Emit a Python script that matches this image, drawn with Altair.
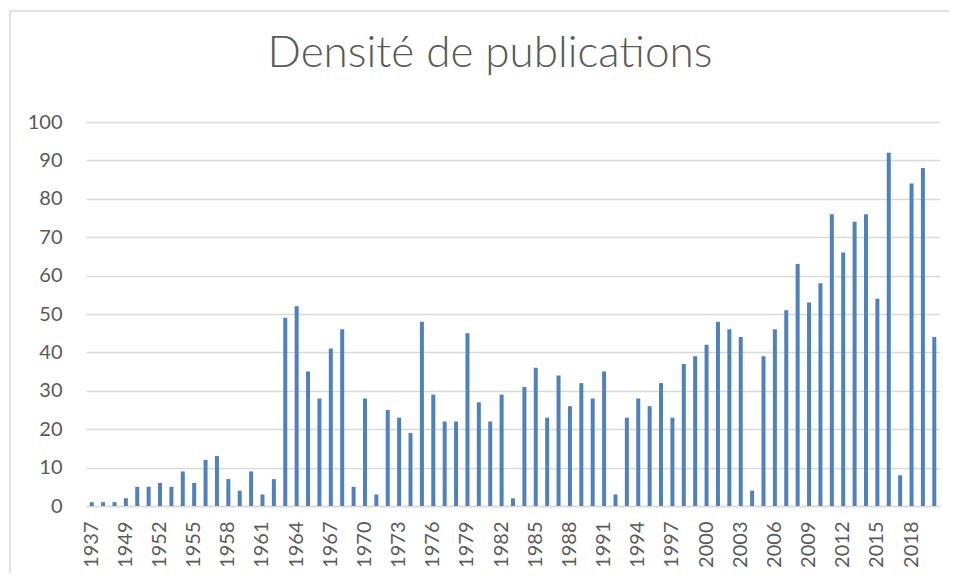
import altair as alt
import pandas as pd

years = ["1937", "1946", "1948"] + [str(y) for y in range(1949, 2021)]
counts = [1, 1, 1, 2, 5, 5, 6, 5, 9, 6, 12, 13, 7, 4, 9, 3, 7,
          49, 52, 35, 28, 41, 46, 5, 28, 3, 25, 23, 19, 48, 29, 22, 22, 45,
          27, 22, 29, 2, 31, 36, 23, 34, 26, 32, 28, 35, 3, 23, 28, 26, 32,
          23, 37, 39, 42, 48, 46, 44, 4, 39, 46, 51, 63, 53, 58, 76, 66, 74,
          76, 54, 92, 8, 84, 88, 44]
shown_labels = [years[i] for i in range(0, len(years), 3)]
y_ticks = list(range(0, 101, 10))
title_text = "Densité de publications"

df = pd.DataFrame({"year": years, "count": counts})

FONT = "Lato"
GREY = "#595959"
LINE = "#d9d9d9"

border = alt.Chart(pd.DataFrame({"a": [0]})).mark_rect(
    filled=False, fill=None, stroke=LINE, strokeWidth=1.5
).encode(
    x=alt.value(-76), x2=alt.value(950),
    y=alt.value(-111), y2=alt.value(600)
)

bars = alt.Chart(df).mark_bar(size=4, color="#4f81bd").encode(
    x=alt.X("year:N", sort=years,
            scale=alt.Scale(paddingInner=0, paddingOuter=0),
            axis=alt.Axis(values=shown_labels, labelAngle=-90, title=None,
                          ticks=False, domainColor=LINE, domainWidth=1.5,
                          labelPadding=15, labelFontSize=20, labelColor=GREY,
                          labelFont=FONT, grid=False)),
    y=alt.Y("count:Q", scale=alt.Scale(domain=[0, 100], nice=False),
            axis=alt.Axis(values=y_ticks, title=None, domain=False, ticks=False,
                          grid=True, gridColor=LINE, gridWidth=1.5,
                          labelPadding=24, labelFontSize=20, labelColor=GREY,
                          labelFont=FONT))
)

chart = alt.layer(border, bars).properties(
    width=854, height=384,
    padding={"left": 78, "top": 114, "right": 9, "bottom": 67},
    autosize=alt.AutoSizeParams(type="none"),
    title=alt.TitleParams(title_text, font=FONT, fontSize=44, fontWeight=300,
                          color=GREY, anchor="middle", frame="group",
                          baseline="alphabetic", dx=-23, offset=-101)
).configure_view(stroke=None)

chart.save("out.html", embed_options={"renderer": "svg", "actions": False})
